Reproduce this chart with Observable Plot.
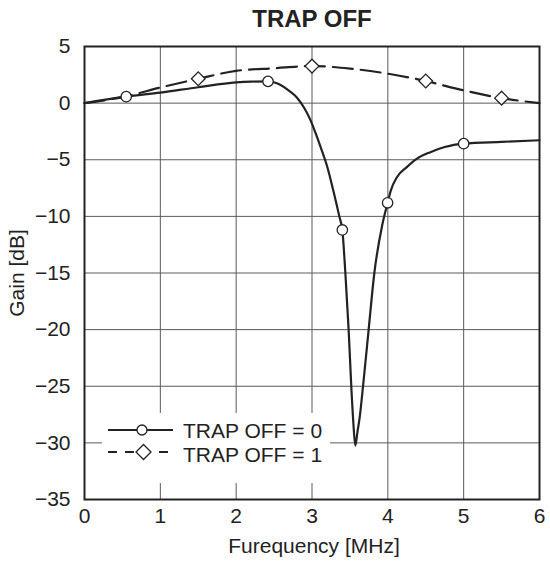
<!DOCTYPE html>
<html>
<head>
<meta charset="utf-8">
<script src="https://cdn.jsdelivr.net/npm/d3@7"></script>
<script src="https://cdn.jsdelivr.net/npm/@observablehq/plot@0.6"></script>
<style>
  html, body { margin: 0; padding: 0; background: #fff; }
  body { font-family: "Liberation Sans", Arial, Helvetica, sans-serif; color: #222; }
  #wrap { position: relative; width: 550px; height: 564px; }
  #title { position: absolute; left: 0; top: 0; height: 37px; line-height: 37px; font-size: 24px; font-weight: bold; text-align: center; padding-left: 74px; box-sizing: border-box; width: 550px; }
  #chart svg { display: block; }
  #legend { position: absolute; left: 102px; top: 413px; }
</style>
</head>
<body>
<div id="wrap">
  <div id="chart"></div>
  <div id="title">TRAP OFF</div>
  <div id="legend"></div>
</div>
<script>
// ---- data ----
const xTicks = [0, 1, 2, 3, 4, 5, 6];
const yTicks = [5, 0, -5, -10, -15, -20, -25, -30, -35];

// TRAP OFF = 0 (solid)
const solidX = [0, 0.55, 1.0, 1.5, 2.0, 2.2, 2.42, 2.58, 2.7, 2.8, 2.9, 2.98, 3.05, 3.13, 3.2, 3.28, 3.36, 3.40, 3.44, 3.483, 3.518, 3.545, 3.571, 3.60, 3.628, 3.673, 3.747, 3.822, 3.925, 3.997, 4.04, 4.12, 4.25, 4.385, 4.56, 4.75, 4.87, 5.0, 5.5, 6.0];
const solidY = [0, 0.57, 0.93, 1.40, 1.83, 1.90, 1.92, 1.62, 1.08, 0.5, -0.45, -1.5, -2.7, -4.2, -5.6, -7.7, -10.0, -11.2, -15, -20, -25, -28.2, -30.24, -29.0, -27.8, -25, -20, -15, -10.8, -8.8, -7.7, -6.54, -5.65, -4.9, -4.33, -3.88, -3.68, -3.58, -3.42, -3.28];
const circleX = [0.55, 2.42, 3.40, 3.997, 5.0];
const circleY = [0.57, 1.92, -11.2, -8.8, -3.58];

// TRAP OFF = 1 (dashed)
const dashedX = [0, 0.55, 1.0, 1.5, 2.0, 2.5, 3.0, 3.5, 4.0, 4.5, 5.0, 5.5, 6.0];
const dashedY = [0, 0.6, 1.38, 2.15, 2.85, 3.08, 3.27, 3.05, 2.6, 1.95, 1.12, 0.44, 0];
const diamondX = [1.5, 3.0, 4.5, 5.5];
const diamondY = [2.15, 3.27, 1.95, 0.44];

const seriesNames = ["TRAP OFF = 0", "TRAP OFF = 1"];
const xLabel = "Furequency [MHz]";
const yLabel = "Gain [dB]";

// ---- build tables ----
const zip = (xs, ys) => xs.map((x, i) => ({x, y: ys[i]}));
const solid = zip(solidX, solidY);
const dashed = zip(dashedX, dashedY);
const circles = zip(circleX, circleY);
const diamonds = zip(diamondX, diamondY);

const ink = "#222";
const gridColor = "#5a5a5a";
const FS = 21;
const fmt = d => (d < 0 ? "\u2212" + Math.abs(d) : String(d));

const chart = Plot.plot({
  width: 550,
  height: 564,
  marginTop: 46,
  marginBottom: 65,
  marginLeft: 84,
  marginRight: 11,
  style: {fontFamily: '"Liberation Sans", Arial, Helvetica, sans-serif', fontSize: FS + "px", color: ink, background: "white", overflow: "visible"},
  x: {domain: [0, 6]},
  y: {domain: [-35, 5]},
  marks: [
    Plot.ruleX(xTicks, {x: d => d, stroke: gridColor, strokeWidth: 1}),
    Plot.ruleY(yTicks, {y: d => d, stroke: gridColor, strokeWidth: 1}),
    Plot.axisX({ticks: xTicks, tickFormat: fmt, tickSize: 0, tickPadding: 9, label: null, fontSize: FS, fill: ink}),
    Plot.axisY({ticks: yTicks, tickFormat: fmt, tickSize: 0, tickPadding: 14, label: null, fontSize: FS, fill: ink}),
    Plot.line(dashed, {x: "x", y: "y", curve: "monotone-x", stroke: ink, strokeWidth: 2.2, strokeDasharray: "20,8"}),
    Plot.line(solid, {x: "x", y: "y", curve: "monotone-x", stroke: ink, strokeWidth: 2.2}),
    Plot.dot(circles, {x: "x", y: "y", r: 5.2, fill: "white", stroke: ink, strokeWidth: 1.3}),
    Plot.dot(diamonds, {x: "x", y: "y", symbol: "diamond2", r: 6.2, fill: "white", stroke: ink, strokeWidth: 1.3}),
    Plot.frame({stroke: ink, strokeWidth: 2}),
    Plot.text([yLabel], {text: d => d, frameAnchor: "left", textAnchor: "middle", rotate: -90, dx: -67, fill: ink, fontSize: FS}),
    Plot.text([xLabel], {text: d => d, frameAnchor: "bottom", textAnchor: "middle", lineAnchor: "top", dy: 39, dx: 2, fill: ink, fontSize: FS})
  ]
});
document.getElementById("chart").appendChild(chart);

// ---- legend (overlay with white background) ----
const ns = "http://www.w3.org/2000/svg";
const lg = document.createElementNS(ns, "svg");
lg.setAttribute("width", 228);
lg.setAttribute("height", 70);
const mk = (tag, attrs) => { const e = document.createElementNS(ns, tag); for (const k in attrs) e.setAttribute(k, attrs[k]); lg.appendChild(e); return e; };
mk("rect", {x: 0, y: 0, width: 228, height: 70, fill: "white"});
// row 1: solid with circle
mk("line", {x1: 6, x2: 71, y1: 17, y2: 17, stroke: ink, "stroke-width": 2});
mk("circle", {cx: 40, cy: 17, r: 5, fill: "white", stroke: ink, "stroke-width": 1.3});
// row 2: dashed with diamond
mk("line", {x1: 6, x2: 71, y1: 39, y2: 39, stroke: ink, "stroke-width": 2, "stroke-dasharray": "9,8"});
mk("path", {d: "M41.5,31.5L49,39L41.5,46.5L34,39Z", fill: "white", stroke: ink, "stroke-width": 1.3});
seriesNames.forEach((s, i) => {
  const t = mk("text", {x: 81, y: 25 + i * 23.5, "font-size": FS, fill: ink, "font-family": '"Liberation Sans", Arial, sans-serif'});
  t.textContent = s;
});
document.getElementById("legend").appendChild(lg);
</script>
</body>
</html>
